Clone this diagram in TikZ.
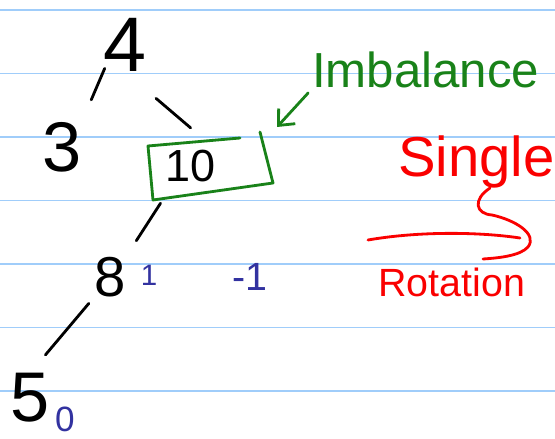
\documentclass[tikz,border=0pt]{standalone}
\usepackage{fontspec}
\setmainfont{Liberation Sans}
\usetikzlibrary{arrows.meta}
\definecolor{paperline}{RGB}{160,205,250}
\definecolor{inkgreen}{RGB}{25,130,25}
\definecolor{inkblue}{RGB}{50,50,160}
\definecolor{inkred}{RGB}{250,0,0}
\begin{document}
\begin{tikzpicture}[x=0.025cm, y=-0.025cm, line cap=round, line join=round,
  every node/.style={inner sep=0pt},
  sized/.style={font=\fontsize{#1pt}{#1pt}\selectfont},
  ink/.style={line width=2pt},
  bal/.style={inkblue, sized=#1}]
  \useasboundingbox[fill=white] (0,0) rectangle (555,439);

  % ruled paper
  \foreach \y in {10,73.5,137,200.5,264,327.5,391}
    \draw[paperline, line width=1.4pt] (0,\y) -- (555,\y);

  % tree keys
  \node[sized=55] (n4) at (125,45) {4};
  \node[sized=50] (n3) at (62,147) {3};
  \node[sized=32] (n10) at (191,166) {10};
  \node[sized=40] (n8) at (110,277) {8};
  \node[sized=50] (n5) at (30,398) {5};

  % tree edges
  \draw[ink, shorten <=-2.7pt, shorten >=17pt] (n4.south west) -- (n3.north east);
  \draw[ink, shorten <=29pt, shorten >=24pt] (n4.south) -- (n10.north east);
  \draw[ink, shorten <=17.8pt, shorten >=13.6pt] ([xshift=6pt]n10.south west) -- (n8.north east);
  \draw[ink, shorten <=5.8pt, shorten >=17pt] (n8.south west) -- (n5.north);

  % balance factors
  \node[bal=21] (b8) at (149,275) {1};
  \node[bal=28] (b10) at (250,277) {-1};
  \node[bal=25] (b5) at (65,419) {0};

  % imbalanced node
  \draw[inkgreen, ink] (240,138) -- (148,146) -- (153,200) -- (273,183) -- (260,132);
  \node[inkgreen, sized=35, anchor=base west] (imb) at (312,88) {Imbalance};
  \coordinate (boxtip) at (277,127);
  \draw[inkgreen, ink, -{Straight Barb[length=9pt, width=16pt]}, shorten <=4pt]
    (imb.south west) -- (boxtip);

  % single rotation
  \node[inkred, sized=40, anchor=base west] (single) at (398,177) {Single};
  \node[inkred, sized=28, anchor=base west] (rot) at (378,297) {Rotation};
  \draw[inkred, ink] (490,188) .. controls (472,200) and (476,214) .. (492,215)
    .. controls (515,220) and (538,234) .. (528,247)
    .. controls (520,256) and (498,258) .. (483,259);
  \draw[inkred, ink] (368,240) .. controls (420,231) and (480,232) .. (520,238);
\end{tikzpicture}
\end{document}
